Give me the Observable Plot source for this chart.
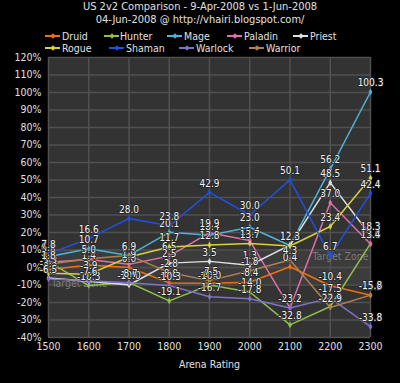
<!DOCTYPE html>
<html><head><meta charset="utf-8">
<script src="https://cdn.jsdelivr.net/npm/d3@7"></script>
<script src="https://cdn.jsdelivr.net/npm/@observablehq/plot@0.6"></script>
<style>
body{margin:0;background:#000;width:400px;height:383px;overflow:hidden;position:relative;font-family:"DejaVu Sans Condensed","Liberation Sans",sans-serif;color:#e0e0e0}
#title{position:absolute;top:0;left:0;width:400px;text-align:center;font-size:11px;line-height:13px;z-index:2}
#legend{position:absolute;top:0;left:0;z-index:2}
.lg{position:absolute;font-size:10.5px;line-height:12px;white-space:nowrap}
.sw{position:absolute;height:1.5px;width:15px}
.sw i{position:absolute;left:5.5px;top:-1.5px;width:4px;height:4px;transform:rotate(45deg)}
#chart{position:absolute;top:50px;left:0;z-index:1}
</style></head><body>
<div id="title">US 2v2 Comparison - 9-Apr-2008 vs 1-Jun-2008<br>04-Jun-2008 @ http://vhairi.blogspot.com/</div>
<div id="legend"></div>
<div id="chart"></div>
<script>
const ratings = [1500,1600,1700,1800,1900,2000,2100,2200,2300];
const classes = ["Druid","Hunter","Mage","Paladin","Priest","Rogue","Shaman","Warlock","Warrior"];
const colors  = ["#f07010","#8fc04c","#4cb4d8","#e070a8","#e0e0e0","#d8d040","#2050e0","#8070c8","#b08050"];
const druid   = [-1.3, 1.4, 0.0, -8.8, -9.0, -8.4, 0.4, -10.4, -15.9];
const hunter  = [3.3, -10.3, -8.6, -19.1, -10.0, -14.0, -32.8, -22.3, 13.6];
const mage    = [6.1, 10.7, 6.9, 20.1, 18.4, 23.0, 12.6, 56.2, 100.3];
const paladin = [3.0, 4.6, 1.9, 6.5, 19.9, 15.4, -23.1, 37.0, 13.4];
const priest  = [-6.0, -7.9, -10.0, 2.5, 3.5, 1.3, 12.8, 48.5, 18.3];
const rogue   = [-3.3, -3.9, 6.0, 11.7, 12.8, 13.7, 12.3, 23.4, 51.1];
const shaman  = [7.8, 16.6, 28.0, 23.8, 42.9, 30.0, 50.1, 6.7, 42.4];
const warlock = [-6.5, -7.6, -8.7, -10.3, -16.7, -17.8, -23.2, -17.5, -33.8];
const warrior = [1.8, 5.0, 6.9, -2.8, -7.5, -1.8, 4.3, -22.9, -15.8];
const yTicks = d3.range(-40, 121, 10);
const bandLow = -10, bandHigh = 10;

const series = [druid,hunter,mage,paladin,priest,rogue,shaman,warlock,warrior];
const rows = [];
series.forEach((vals, i) => vals.forEach((v, j) => rows.push({cls: classes[i], rating: ratings[j], value: v})));

// legend
const legPos = [[45,62,36],[104,120,36],[167,184,36],[227,244,36],[293,310,36],[45,62,48],[109,126,48],[179,196,48],[249,266,48]];
const lg = document.getElementById("legend");
classes.forEach((c, i) => {
  const [sx, tx, y] = legPos[i];
  const s = document.createElement("div");
  s.className = "sw"; s.style.left = sx + "px"; s.style.top = (y - 1) + "px"; s.style.background = colors[i];
  const m = document.createElement("i"); m.style.background = colors[i]; s.appendChild(m);
  lg.appendChild(s);
  const t = document.createElement("div");
  t.className = "lg"; t.style.left = tx + "px"; t.style.top = (y - 6) + "px"; t.textContent = c;
  lg.appendChild(t);
});

const FONT = "DejaVu Sans Condensed, Liberation Sans, sans-serif";
const chart = Plot.plot({
  width: 400, height: 333,
  marginTop: 7, marginBottom: 46, marginLeft: 48, marginRight: 30,
  style: {background: "transparent", color: "#e0e0e0", fontFamily: FONT, fontSize: "10.5px"},
  x: {domain: [1500, 2300]},
  y: {domain: [-40, 120]},
  color: {domain: classes, range: colors},
  marks: [
    Plot.frame({fill: "#333333", stroke: null}),
    Plot.rectY([{a: bandLow, b: bandHigh}], {x1: 1500, x2: 2300, y1: "a", y2: "b", fill: "#3c3c3c"}),
    Plot.gridX(ratings, {stroke: "#505050", strokeOpacity: 1, strokeWidth: 1.5}),
    Plot.gridY(yTicks, {stroke: "#505050", strokeOpacity: 1, strokeWidth: 1.5}),
    Plot.text(["Target Zone"], {x: 1500, y: bandLow, text: d => d, textAnchor: "start", dx: 3, dy: -1, fill: "#7a7a7a", fontSize: 10.5}),
    Plot.text(["Target Zone"], {x: 2300, y: bandHigh, text: d => d, textAnchor: "end", dx: -2, dy: 7, fill: "#7a7a7a", fontSize: 10.5}),
    Plot.axisY(yTicks, {tickSize: 0, tickPadding: 7, tickFormat: d => d + "%", label: null, fill: "#e0e0e0"}),
    Plot.axisX(ratings, {tickSize: 0, tickPadding: 5, tickFormat: d => String(d), label: "Arena Rating", labelAnchor: "center", labelArrow: "none", labelOffset: 30, fill: "#e0e0e0"}),
    Plot.line(rows, {x: "rating", y: "value", z: "cls", stroke: "cls", strokeWidth: 1.5}),
    Plot.dot(rows, {x: "rating", y: "value", fill: "cls", symbol: "diamond", r: 2}),
    Plot.text(rows, {x: "rating", y: "value", text: d => d.value.toFixed(1), dy: -9, fill: "#f4f4f4", stroke: "#222", strokeWidth: 1.5, fontSize: 10})
  ]
});
document.getElementById("chart").appendChild(chart);
</script>
</body></html>
